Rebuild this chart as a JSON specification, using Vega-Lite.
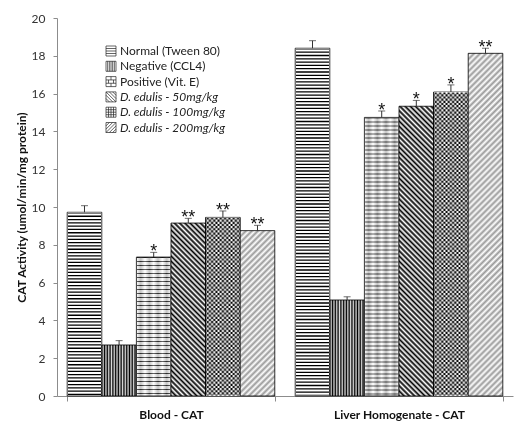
{
  "$schema": "https://vega.github.io/schema/vega-lite/v6.json",
  "width": 456,
  "height": 378,
  "autosize": {"type": "none"},
  "padding": {"left": 57, "top": 18, "right": 10, "bottom": 27},
  "background": "#ffffff",
  "config": {
    "view": {"stroke": null},
    "font": "Lato",
    "axisY": {
      "labelOverlap": false,
      "tickCount": 10,
      "grid": false,
      "labelFont": "Lato",
      "labelFontSize": 12,
      "labelColor": "#333333",
      "labelPadding": 8,
      "domainColor": "#8c8c8c",
      "tickColor": "#8c8c8c",
      "tickSize": 4,
      "titleFont": "Lato",
      "titleFontWeight": "bold",
      "titleFontSize": 12,
      "titleColor": "#111111",
      "titlePadding": 3
    }
  },
  "data": {
    "values": [
      {"group": "Blood - CAT", "treatment": "Normal (Tween  80)", "bar": "B1", "value": 9.72, "upper": 10.07, "sig": ""},
      {"group": "Blood - CAT", "treatment": "Negative (CCL4)", "bar": "B2", "value": 2.70, "upper": 2.93, "sig": ""},
      {"group": "Blood - CAT", "treatment": "Positive (Vit. E)", "bar": "B3", "value": 7.35, "upper": 7.60, "sig": "*"},
      {"group": "Blood - CAT", "treatment": "D. edulis - 50mg/kg", "bar": "B4", "value": 9.15, "upper": 9.40, "sig": "**"},
      {"group": "Blood - CAT", "treatment": "D. edulis - 100mg/kg", "bar": "B5", "value": 9.45, "upper": 9.79, "sig": "**"},
      {"group": "Blood - CAT", "treatment": "D. edulis - 200mg/kg", "bar": "B6", "value": 8.75, "upper": 9.03, "sig": "**"},
      {"group": "Liver Homogenate  - CAT", "treatment": "Normal (Tween  80)", "bar": "L1", "value": 18.40, "upper": 18.80, "sig": ""},
      {"group": "Liver Homogenate  - CAT", "treatment": "Negative (CCL4)", "bar": "L2", "value": 5.08, "upper": 5.25, "sig": ""},
      {"group": "Liver Homogenate  - CAT", "treatment": "Positive (Vit. E)", "bar": "L3", "value": 14.74, "upper": 15.08, "sig": "*"},
      {"group": "Liver Homogenate  - CAT", "treatment": "D. edulis - 50mg/kg", "bar": "L4", "value": 15.33, "upper": 15.64, "sig": "*"},
      {"group": "Liver Homogenate  - CAT", "treatment": "D. edulis - 100mg/kg", "bar": "L5", "value": 16.08, "upper": 16.46, "sig": "*"},
      {"group": "Liver Homogenate  - CAT", "treatment": "D. edulis - 200mg/kg", "bar": "L6", "value": 18.13, "upper": 18.40, "sig": "**"}
    ]
  },
  "encoding": {
    "x": {
      "field": "group",
      "type": "nominal",
      "sort": ["Blood - CAT", "Liver Homogenate  - CAT"],
      "scale": {"paddingInner": 0.0895, "paddingOuter": 0.0447},
      "axis": {
        "title": null,
        "labelAngle": 0,
        "labelFont": "Lato",
        "labelFontWeight": "bold",
        "labelFontSize": 12,
        "labelColor": "#111111",
        "labelPadding": 8,
        "domainColor": "#8c8c8c",
        "tickColor": "#8c8c8c",
        "tickSize": 5,
        "tickBand": "extent"
      }
    },
    "xOffset": {
      "field": "treatment",
      "type": "nominal",
      "scale": {
        "domain": ["Normal (Tween  80)", "Negative (CCL4)", "Positive (Vit. E)", "D. edulis - 50mg/kg", "D. edulis - 100mg/kg", "D. edulis - 200mg/kg"],
        "paddingInner": 0,
        "paddingOuter": 0
      }
    }
  },
  "layer": [
    {
      "mark": {"type": "bar", "stroke": "#000000", "strokeWidth": 0.8},
      "encoding": {
        "y": {
          "field": "value",
          "type": "quantitative",
          "scale": {"domain": [0, 20], "nice": false},
          "axis": {"title": "CAT Activity (umol/min/mg protein)"}
        },
        "fill": {
          "condition": [
            {"test": "datum.treatment === 'Negative (CCL4)'", "value": {"gradient": "linear", "x1": 0, "y1": 0, "x2": 1, "y2": 0, "stops": [
              {"offset": 0, "color": "#000"}, {"offset": 0.04, "color": "#ddd"}, {"offset": 0.08, "color": "#000"}, {"offset": 0.12, "color": "#ddd"},
              {"offset": 0.16, "color": "#000"}, {"offset": 0.2, "color": "#ddd"}, {"offset": 0.24, "color": "#000"}, {"offset": 0.28, "color": "#ddd"},
              {"offset": 0.32, "color": "#000"}, {"offset": 0.36, "color": "#ddd"}, {"offset": 0.4, "color": "#000"}, {"offset": 0.44, "color": "#ddd"},
              {"offset": 0.48, "color": "#000"}, {"offset": 0.52, "color": "#ddd"}, {"offset": 0.56, "color": "#000"}, {"offset": 0.6, "color": "#ddd"},
              {"offset": 0.64, "color": "#000"}, {"offset": 0.68, "color": "#ddd"}, {"offset": 0.72, "color": "#000"}, {"offset": 0.76, "color": "#ddd"},
              {"offset": 0.8, "color": "#000"}, {"offset": 0.84, "color": "#ddd"}, {"offset": 0.88, "color": "#000"}, {"offset": 0.92, "color": "#ddd"},
              {"offset": 0.96, "color": "#000"}, {"offset": 1, "color": "#ddd"}
            ]}},
            {"test": "datum.treatment === 'Positive (Vit. E)'", "value": {"gradient": "linear", "x1": 0, "y1": 0, "x2": 1, "y2": 0, "stops": [
              {"offset": 0, "color": "#fff"}, {"offset": 0.125, "color": "#c4c4c4"}, {"offset": 0.25, "color": "#fff"}, {"offset": 0.375, "color": "#c4c4c4"},
              {"offset": 0.5, "color": "#fff"}, {"offset": 0.625, "color": "#c4c4c4"}, {"offset": 0.75, "color": "#fff"}, {"offset": 0.875, "color": "#c4c4c4"},
              {"offset": 1, "color": "#fff"}
            ]}},
            {"test": "datum.treatment === 'D. edulis - 100mg/kg'", "value": {"gradient": "linear", "x1": 0, "y1": 0, "x2": 1, "y2": 0, "stops": [
              {"offset": 0, "color": "#000"}, {"offset": 0.0625, "color": "#fff"}, {"offset": 0.125, "color": "#000"}, {"offset": 0.1875, "color": "#fff"},
              {"offset": 0.25, "color": "#000"}, {"offset": 0.3125, "color": "#fff"}, {"offset": 0.375, "color": "#000"}, {"offset": 0.4375, "color": "#fff"},
              {"offset": 0.5, "color": "#000"}, {"offset": 0.5625, "color": "#fff"}, {"offset": 0.625, "color": "#000"}, {"offset": 0.6875, "color": "#fff"},
              {"offset": 0.75, "color": "#000"}, {"offset": 0.8125, "color": "#fff"}, {"offset": 0.875, "color": "#000"}, {"offset": 0.9375, "color": "#fff"},
              {"offset": 1, "color": "#000"}
            ]}},
            {"test": "datum.bar === 'B4'", "value": {"gradient": "linear", "x1": 0, "y1": 1, "x2": 0.2309, "y2": -0.1539, "stops": [
              {"offset": 0, "color": "#000"}, {"offset": 0.0125, "color": "#fff"}, {"offset": 0.025, "color": "#000"}, {"offset": 0.0375, "color": "#fff"},
              {"offset": 0.05, "color": "#000"}, {"offset": 0.0625, "color": "#fff"}, {"offset": 0.075, "color": "#000"}, {"offset": 0.0875, "color": "#fff"},
              {"offset": 0.1, "color": "#000"}, {"offset": 0.1125, "color": "#fff"}, {"offset": 0.125, "color": "#000"}, {"offset": 0.1375, "color": "#fff"},
              {"offset": 0.15, "color": "#000"}, {"offset": 0.1625, "color": "#fff"}, {"offset": 0.175, "color": "#000"}, {"offset": 0.1875, "color": "#fff"},
              {"offset": 0.2, "color": "#000"}, {"offset": 0.2125, "color": "#fff"}, {"offset": 0.225, "color": "#000"}, {"offset": 0.2375, "color": "#fff"},
              {"offset": 0.25, "color": "#000"}, {"offset": 0.2625, "color": "#fff"}, {"offset": 0.275, "color": "#000"}, {"offset": 0.2875, "color": "#fff"},
              {"offset": 0.3, "color": "#000"}, {"offset": 0.3125, "color": "#fff"}, {"offset": 0.325, "color": "#000"}, {"offset": 0.3375, "color": "#fff"},
              {"offset": 0.35, "color": "#000"}, {"offset": 0.3625, "color": "#fff"}, {"offset": 0.375, "color": "#000"}, {"offset": 0.3875, "color": "#fff"},
              {"offset": 0.4, "color": "#000"}, {"offset": 0.4125, "color": "#fff"}, {"offset": 0.425, "color": "#000"}, {"offset": 0.4375, "color": "#fff"},
              {"offset": 0.45, "color": "#000"}, {"offset": 0.4625, "color": "#fff"}, {"offset": 0.475, "color": "#000"}, {"offset": 0.4875, "color": "#fff"},
              {"offset": 0.5, "color": "#000"}, {"offset": 0.5125, "color": "#fff"}, {"offset": 0.525, "color": "#000"}, {"offset": 0.5375, "color": "#fff"},
              {"offset": 0.55, "color": "#000"}, {"offset": 0.5625, "color": "#fff"}, {"offset": 0.575, "color": "#000"}, {"offset": 0.5875, "color": "#fff"},
              {"offset": 0.6, "color": "#000"}, {"offset": 0.6125, "color": "#fff"}, {"offset": 0.625, "color": "#000"}, {"offset": 0.6375, "color": "#fff"},
              {"offset": 0.65, "color": "#000"}, {"offset": 0.6625, "color": "#fff"}, {"offset": 0.675, "color": "#000"}, {"offset": 0.6875, "color": "#fff"},
              {"offset": 0.7, "color": "#000"}, {"offset": 0.7125, "color": "#fff"}, {"offset": 0.725, "color": "#000"}, {"offset": 0.7375, "color": "#fff"},
              {"offset": 0.75, "color": "#000"}, {"offset": 0.7625, "color": "#fff"}, {"offset": 0.775, "color": "#000"}, {"offset": 0.7875, "color": "#fff"},
              {"offset": 0.8, "color": "#000"}, {"offset": 0.8125, "color": "#fff"}, {"offset": 0.825, "color": "#000"}, {"offset": 0.8375, "color": "#fff"},
              {"offset": 0.85, "color": "#000"}, {"offset": 0.8625, "color": "#fff"}, {"offset": 0.875, "color": "#000"}, {"offset": 0.8875, "color": "#fff"},
              {"offset": 0.9, "color": "#000"}, {"offset": 0.9125, "color": "#fff"}, {"offset": 0.925, "color": "#000"}, {"offset": 0.9375, "color": "#fff"},
              {"offset": 0.95, "color": "#000"}, {"offset": 0.9625, "color": "#fff"}, {"offset": 0.975, "color": "#000"}, {"offset": 0.9875, "color": "#fff"},
              {"offset": 1, "color": "#000"}
            ]}},
            {"test": "datum.bar === 'L4'", "value": {"gradient": "linear", "x1": 0, "y1": 1, "x2": 0.1318, "y2": -0.1037, "stops": [
              {"offset": 0, "color": "#000"}, {"offset": 0.008, "color": "#fff"}, {"offset": 0.016, "color": "#000"}, {"offset": 0.024, "color": "#fff"},
              {"offset": 0.032, "color": "#000"}, {"offset": 0.04, "color": "#fff"}, {"offset": 0.048, "color": "#000"}, {"offset": 0.056, "color": "#fff"},
              {"offset": 0.064, "color": "#000"}, {"offset": 0.072, "color": "#fff"}, {"offset": 0.08, "color": "#000"}, {"offset": 0.088, "color": "#fff"},
              {"offset": 0.096, "color": "#000"}, {"offset": 0.104, "color": "#fff"}, {"offset": 0.112, "color": "#000"}, {"offset": 0.12, "color": "#fff"},
              {"offset": 0.128, "color": "#000"}, {"offset": 0.136, "color": "#fff"}, {"offset": 0.144, "color": "#000"}, {"offset": 0.152, "color": "#fff"},
              {"offset": 0.16, "color": "#000"}, {"offset": 0.168, "color": "#fff"}, {"offset": 0.176, "color": "#000"}, {"offset": 0.184, "color": "#fff"},
              {"offset": 0.192, "color": "#000"}, {"offset": 0.2, "color": "#fff"}, {"offset": 0.208, "color": "#000"}, {"offset": 0.216, "color": "#fff"},
              {"offset": 0.224, "color": "#000"}, {"offset": 0.232, "color": "#fff"}, {"offset": 0.24, "color": "#000"}, {"offset": 0.248, "color": "#fff"},
              {"offset": 0.256, "color": "#000"}, {"offset": 0.264, "color": "#fff"}, {"offset": 0.272, "color": "#000"}, {"offset": 0.28, "color": "#fff"},
              {"offset": 0.288, "color": "#000"}, {"offset": 0.296, "color": "#fff"}, {"offset": 0.304, "color": "#000"}, {"offset": 0.312, "color": "#fff"},
              {"offset": 0.32, "color": "#000"}, {"offset": 0.328, "color": "#fff"}, {"offset": 0.336, "color": "#000"}, {"offset": 0.344, "color": "#fff"},
              {"offset": 0.352, "color": "#000"}, {"offset": 0.36, "color": "#fff"}, {"offset": 0.368, "color": "#000"}, {"offset": 0.376, "color": "#fff"},
              {"offset": 0.384, "color": "#000"}, {"offset": 0.392, "color": "#fff"}, {"offset": 0.4, "color": "#000"}, {"offset": 0.408, "color": "#fff"},
              {"offset": 0.416, "color": "#000"}, {"offset": 0.424, "color": "#fff"}, {"offset": 0.432, "color": "#000"}, {"offset": 0.44, "color": "#fff"},
              {"offset": 0.448, "color": "#000"}, {"offset": 0.456, "color": "#fff"}, {"offset": 0.464, "color": "#000"}, {"offset": 0.472, "color": "#fff"},
              {"offset": 0.48, "color": "#000"}, {"offset": 0.488, "color": "#fff"}, {"offset": 0.496, "color": "#000"}, {"offset": 0.504, "color": "#fff"},
              {"offset": 0.512, "color": "#000"}, {"offset": 0.52, "color": "#fff"}, {"offset": 0.528, "color": "#000"}, {"offset": 0.536, "color": "#fff"},
              {"offset": 0.544, "color": "#000"}, {"offset": 0.552, "color": "#fff"}, {"offset": 0.56, "color": "#000"}, {"offset": 0.568, "color": "#fff"},
              {"offset": 0.576, "color": "#000"}, {"offset": 0.584, "color": "#fff"}, {"offset": 0.592, "color": "#000"}, {"offset": 0.6, "color": "#fff"},
              {"offset": 0.608, "color": "#000"}, {"offset": 0.616, "color": "#fff"}, {"offset": 0.624, "color": "#000"}, {"offset": 0.632, "color": "#fff"},
              {"offset": 0.64, "color": "#000"}, {"offset": 0.648, "color": "#fff"}, {"offset": 0.656, "color": "#000"}, {"offset": 0.664, "color": "#fff"},
              {"offset": 0.672, "color": "#000"}, {"offset": 0.68, "color": "#fff"}, {"offset": 0.688, "color": "#000"}, {"offset": 0.696, "color": "#fff"},
              {"offset": 0.704, "color": "#000"}, {"offset": 0.712, "color": "#fff"}, {"offset": 0.72, "color": "#000"}, {"offset": 0.728, "color": "#fff"},
              {"offset": 0.736, "color": "#000"}, {"offset": 0.744, "color": "#fff"}, {"offset": 0.752, "color": "#000"}, {"offset": 0.76, "color": "#fff"},
              {"offset": 0.768, "color": "#000"}, {"offset": 0.776, "color": "#fff"}, {"offset": 0.784, "color": "#000"}, {"offset": 0.792, "color": "#fff"},
              {"offset": 0.8, "color": "#000"}, {"offset": 0.808, "color": "#fff"}, {"offset": 0.816, "color": "#000"}, {"offset": 0.824, "color": "#fff"},
              {"offset": 0.832, "color": "#000"}, {"offset": 0.84, "color": "#fff"}, {"offset": 0.848, "color": "#000"}, {"offset": 0.856, "color": "#fff"},
              {"offset": 0.864, "color": "#000"}, {"offset": 0.872, "color": "#fff"}, {"offset": 0.88, "color": "#000"}, {"offset": 0.888, "color": "#fff"},
              {"offset": 0.896, "color": "#000"}, {"offset": 0.904, "color": "#fff"}, {"offset": 0.912, "color": "#000"}, {"offset": 0.92, "color": "#fff"},
              {"offset": 0.928, "color": "#000"}, {"offset": 0.936, "color": "#fff"}, {"offset": 0.944, "color": "#000"}, {"offset": 0.952, "color": "#fff"},
              {"offset": 0.96, "color": "#000"}, {"offset": 0.968, "color": "#fff"}, {"offset": 0.976, "color": "#000"}, {"offset": 0.984, "color": "#fff"},
              {"offset": 0.992, "color": "#000"}, {"offset": 1, "color": "#fff"}
            ]}},
            {"test": "datum.bar === 'B6'", "value": {"gradient": "linear", "x1": 0, "y1": 0, "x2": 0.2424, "y2": 1.1585, "stops": [
              {"offset": 0, "color": "#999"}, {"offset": 0.015, "color": "#fff"}, {"offset": 0.03, "color": "#999"}, {"offset": 0.045, "color": "#fff"},
              {"offset": 0.06, "color": "#999"}, {"offset": 0.075, "color": "#fff"}, {"offset": 0.09, "color": "#999"}, {"offset": 0.105, "color": "#fff"},
              {"offset": 0.12, "color": "#999"}, {"offset": 0.135, "color": "#fff"}, {"offset": 0.15, "color": "#999"}, {"offset": 0.165, "color": "#fff"},
              {"offset": 0.18, "color": "#999"}, {"offset": 0.195, "color": "#fff"}, {"offset": 0.21, "color": "#999"}, {"offset": 0.225, "color": "#fff"},
              {"offset": 0.24, "color": "#999"}, {"offset": 0.255, "color": "#fff"}, {"offset": 0.27, "color": "#999"}, {"offset": 0.285, "color": "#fff"},
              {"offset": 0.3, "color": "#999"}, {"offset": 0.315, "color": "#fff"}, {"offset": 0.33, "color": "#999"}, {"offset": 0.345, "color": "#fff"},
              {"offset": 0.36, "color": "#999"}, {"offset": 0.375, "color": "#fff"}, {"offset": 0.39, "color": "#999"}, {"offset": 0.405, "color": "#fff"},
              {"offset": 0.42, "color": "#999"}, {"offset": 0.435, "color": "#fff"}, {"offset": 0.45, "color": "#999"}, {"offset": 0.465, "color": "#fff"},
              {"offset": 0.48, "color": "#999"}, {"offset": 0.495, "color": "#fff"}, {"offset": 0.51, "color": "#999"}, {"offset": 0.525, "color": "#fff"},
              {"offset": 0.54, "color": "#999"}, {"offset": 0.555, "color": "#fff"}, {"offset": 0.57, "color": "#999"}, {"offset": 0.585, "color": "#fff"},
              {"offset": 0.6, "color": "#999"}, {"offset": 0.615, "color": "#fff"}, {"offset": 0.63, "color": "#999"}, {"offset": 0.645, "color": "#fff"},
              {"offset": 0.66, "color": "#999"}, {"offset": 0.675, "color": "#fff"}, {"offset": 0.69, "color": "#999"}, {"offset": 0.705, "color": "#fff"},
              {"offset": 0.72, "color": "#999"}, {"offset": 0.735, "color": "#fff"}, {"offset": 0.75, "color": "#999"}, {"offset": 0.765, "color": "#fff"},
              {"offset": 0.78, "color": "#999"}, {"offset": 0.795, "color": "#fff"}, {"offset": 0.81, "color": "#999"}, {"offset": 0.825, "color": "#fff"},
              {"offset": 0.84, "color": "#999"}, {"offset": 0.855, "color": "#fff"}, {"offset": 0.87, "color": "#999"}, {"offset": 0.885, "color": "#fff"},
              {"offset": 0.9, "color": "#999"}, {"offset": 0.915, "color": "#fff"}, {"offset": 0.93, "color": "#999"}, {"offset": 0.945, "color": "#fff"},
              {"offset": 0.96, "color": "#999"}, {"offset": 0.975, "color": "#fff"}, {"offset": 0.99, "color": "#999"}
            ]}},
            {"test": "datum.bar === 'L6'", "value": {"gradient": "linear", "x1": 0, "y1": 0, "x2": 0.1100, "y2": 1.0899, "stops": [
              {"offset": 0, "color": "#999"}, {"offset": 0.008, "color": "#fff"}, {"offset": 0.016, "color": "#999"}, {"offset": 0.024, "color": "#fff"},
              {"offset": 0.032, "color": "#999"}, {"offset": 0.04, "color": "#fff"}, {"offset": 0.048, "color": "#999"}, {"offset": 0.056, "color": "#fff"},
              {"offset": 0.064, "color": "#999"}, {"offset": 0.072, "color": "#fff"}, {"offset": 0.08, "color": "#999"}, {"offset": 0.088, "color": "#fff"},
              {"offset": 0.096, "color": "#999"}, {"offset": 0.104, "color": "#fff"}, {"offset": 0.112, "color": "#999"}, {"offset": 0.12, "color": "#fff"},
              {"offset": 0.128, "color": "#999"}, {"offset": 0.136, "color": "#fff"}, {"offset": 0.144, "color": "#999"}, {"offset": 0.152, "color": "#fff"},
              {"offset": 0.16, "color": "#999"}, {"offset": 0.168, "color": "#fff"}, {"offset": 0.176, "color": "#999"}, {"offset": 0.184, "color": "#fff"},
              {"offset": 0.192, "color": "#999"}, {"offset": 0.2, "color": "#fff"}, {"offset": 0.208, "color": "#999"}, {"offset": 0.216, "color": "#fff"},
              {"offset": 0.224, "color": "#999"}, {"offset": 0.232, "color": "#fff"}, {"offset": 0.24, "color": "#999"}, {"offset": 0.248, "color": "#fff"},
              {"offset": 0.256, "color": "#999"}, {"offset": 0.264, "color": "#fff"}, {"offset": 0.272, "color": "#999"}, {"offset": 0.28, "color": "#fff"},
              {"offset": 0.288, "color": "#999"}, {"offset": 0.296, "color": "#fff"}, {"offset": 0.304, "color": "#999"}, {"offset": 0.312, "color": "#fff"},
              {"offset": 0.32, "color": "#999"}, {"offset": 0.328, "color": "#fff"}, {"offset": 0.336, "color": "#999"}, {"offset": 0.344, "color": "#fff"},
              {"offset": 0.352, "color": "#999"}, {"offset": 0.36, "color": "#fff"}, {"offset": 0.368, "color": "#999"}, {"offset": 0.376, "color": "#fff"},
              {"offset": 0.384, "color": "#999"}, {"offset": 0.392, "color": "#fff"}, {"offset": 0.4, "color": "#999"}, {"offset": 0.408, "color": "#fff"},
              {"offset": 0.416, "color": "#999"}, {"offset": 0.424, "color": "#fff"}, {"offset": 0.432, "color": "#999"}, {"offset": 0.44, "color": "#fff"},
              {"offset": 0.448, "color": "#999"}, {"offset": 0.456, "color": "#fff"}, {"offset": 0.464, "color": "#999"}, {"offset": 0.472, "color": "#fff"},
              {"offset": 0.48, "color": "#999"}, {"offset": 0.488, "color": "#fff"}, {"offset": 0.496, "color": "#999"}, {"offset": 0.504, "color": "#fff"},
              {"offset": 0.512, "color": "#999"}, {"offset": 0.52, "color": "#fff"}, {"offset": 0.528, "color": "#999"}, {"offset": 0.536, "color": "#fff"},
              {"offset": 0.544, "color": "#999"}, {"offset": 0.552, "color": "#fff"}, {"offset": 0.56, "color": "#999"}, {"offset": 0.568, "color": "#fff"},
              {"offset": 0.576, "color": "#999"}, {"offset": 0.584, "color": "#fff"}, {"offset": 0.592, "color": "#999"}, {"offset": 0.6, "color": "#fff"},
              {"offset": 0.608, "color": "#999"}, {"offset": 0.616, "color": "#fff"}, {"offset": 0.624, "color": "#999"}, {"offset": 0.632, "color": "#fff"},
              {"offset": 0.64, "color": "#999"}, {"offset": 0.648, "color": "#fff"}, {"offset": 0.656, "color": "#999"}, {"offset": 0.664, "color": "#fff"},
              {"offset": 0.672, "color": "#999"}, {"offset": 0.68, "color": "#fff"}, {"offset": 0.688, "color": "#999"}, {"offset": 0.696, "color": "#fff"},
              {"offset": 0.704, "color": "#999"}, {"offset": 0.712, "color": "#fff"}, {"offset": 0.72, "color": "#999"}, {"offset": 0.728, "color": "#fff"},
              {"offset": 0.736, "color": "#999"}, {"offset": 0.744, "color": "#fff"}, {"offset": 0.752, "color": "#999"}, {"offset": 0.76, "color": "#fff"},
              {"offset": 0.768, "color": "#999"}, {"offset": 0.776, "color": "#fff"}, {"offset": 0.784, "color": "#999"}, {"offset": 0.792, "color": "#fff"},
              {"offset": 0.8, "color": "#999"}, {"offset": 0.808, "color": "#fff"}, {"offset": 0.816, "color": "#999"}, {"offset": 0.824, "color": "#fff"},
              {"offset": 0.832, "color": "#999"}, {"offset": 0.84, "color": "#fff"}, {"offset": 0.848, "color": "#999"}, {"offset": 0.856, "color": "#fff"},
              {"offset": 0.864, "color": "#999"}, {"offset": 0.872, "color": "#fff"}, {"offset": 0.88, "color": "#999"}, {"offset": 0.888, "color": "#fff"},
              {"offset": 0.896, "color": "#999"}, {"offset": 0.904, "color": "#fff"}, {"offset": 0.912, "color": "#999"}, {"offset": 0.92, "color": "#fff"},
              {"offset": 0.928, "color": "#999"}, {"offset": 0.936, "color": "#fff"}, {"offset": 0.944, "color": "#999"}, {"offset": 0.952, "color": "#fff"},
              {"offset": 0.96, "color": "#999"}, {"offset": 0.968, "color": "#fff"}, {"offset": 0.976, "color": "#999"}, {"offset": 0.984, "color": "#fff"},
              {"offset": 0.992, "color": "#999"}, {"offset": 1, "color": "#fff"}
            ]}}
          ],
          "value": "#ffffff"
        }
      }
    },
    {
      "transform": [{"filter": {"field": "treatment", "oneOf": ["Normal (Tween  80)", "Positive (Vit. E)", "D. edulis - 100mg/kg"]}}],
      "mark": {"type": "rule", "strokeWidth": 33.4, "blend": "difference"},
      "encoding": {
        "y": {"field": "value", "type": "quantitative"},
        "y2": {"datum": 0},
        "stroke": {
          "field": "treatment",
          "type": "nominal",
          "legend": null,
          "scale": {"domain": ["Normal (Tween  80)", "Positive (Vit. E)", "D. edulis - 100mg/kg"], "range": ["#ffffff", "#999999", "#ffffff"]}
        },
        "strokeDash": {
          "field": "treatment",
          "type": "nominal",
          "legend": null,
          "scale": {"domain": ["Normal (Tween  80)", "Positive (Vit. E)", "D. edulis - 100mg/kg"], "range": [[1.3, 2], [1, 3], [2.16, 2.16]]}
        }
      }
    },
    {
      "mark": {"type": "rule", "color": "#333333", "strokeWidth": 1},
      "encoding": {
        "y": {"field": "value", "type": "quantitative"},
        "y2": {"field": "upper"}
      }
    },
    {
      "mark": {"type": "tick", "color": "#333333", "thickness": 1, "size": 7},
      "encoding": {
        "y": {"field": "upper", "type": "quantitative"}
      }
    },
    {
      "mark": {"type": "text", "font": "Liberation Sans", "fontSize": 18, "baseline": "alphabetic", "align": "center", "dy": 5, "color": "#111111"},
      "encoding": {
        "y": {"field": "upper", "type": "quantitative"},
        "text": {"field": "sig"}
      }
    },
    {
      "mark": {"type": "point", "filled": true, "fill": "#ffffff", "stroke": "#222222", "strokeWidth": 0.7, "size": 0, "opacity": 1},
      "encoding": {
        "shape": {
          "field": "treatment",
          "type": "nominal",
          "scale": {
            "domain": ["Normal (Tween  80)", "Negative (CCL4)", "Positive (Vit. E)", "D. edulis - 50mg/kg", "D. edulis - 100mg/kg", "D. edulis - 200mg/kg"],
            "range": [
              "M-1,-1H1V1H-1Z M-1,-0.5H1 M-1,0H1 M-1,0.5H1",
              "M-1,-1H1V1H-1Z M-0.67,-1V1 M-0.33,-1V1 M0,-1V1 M0.33,-1V1 M0.67,-1V1",
              "M-1,-1H1V1H-1Z M-1,-0.33H1 M-1,0.33H1 M0,-1V-0.33 M-0.5,-0.33V0.33 M0.5,-0.33V0.33 M0,0.33V1",
              "M-1,-1H1V1H-1Z M-1,-1L1,1 M-1,-0.33L0.33,1 M-1,0.33L-0.33,1 M-0.33,-1L1,0.33 M0.33,-1L1,-0.33",
              "M-1,-1H1V1H-1Z M-0.5,-1V1 M0,-1V1 M0.5,-1V1 M-1,-0.5H1 M-1,0H1 M-1,0.5H1",
              "M-1,-1H1V1H-1Z M-1,1L1,-1 M-1,0.33L0.33,-1 M-1,-0.33L-0.33,-1 M-0.33,1L1,-0.33 M0.33,1L1,0.33"
            ]
          },
          "legend": {
            "title": null,
            "orient": "none",
            "legendX": 48,
            "legendY": 27,
            "padding": 0,
            "symbolSize": 100,
            "symbolStrokeWidth": 0.7,
            "labelFont": "Lato",
            "labelFontSize": 12,
            "labelColor": "#222222",
            "labelOffset": 3,
            "rowPadding": 1.3,
            "labelFontStyle": {"expr": "indexof(datum.label, 'edulis') >= 0 ? 'italic' : 'normal'"}
          }
        }
      }
    }
  ]
}
